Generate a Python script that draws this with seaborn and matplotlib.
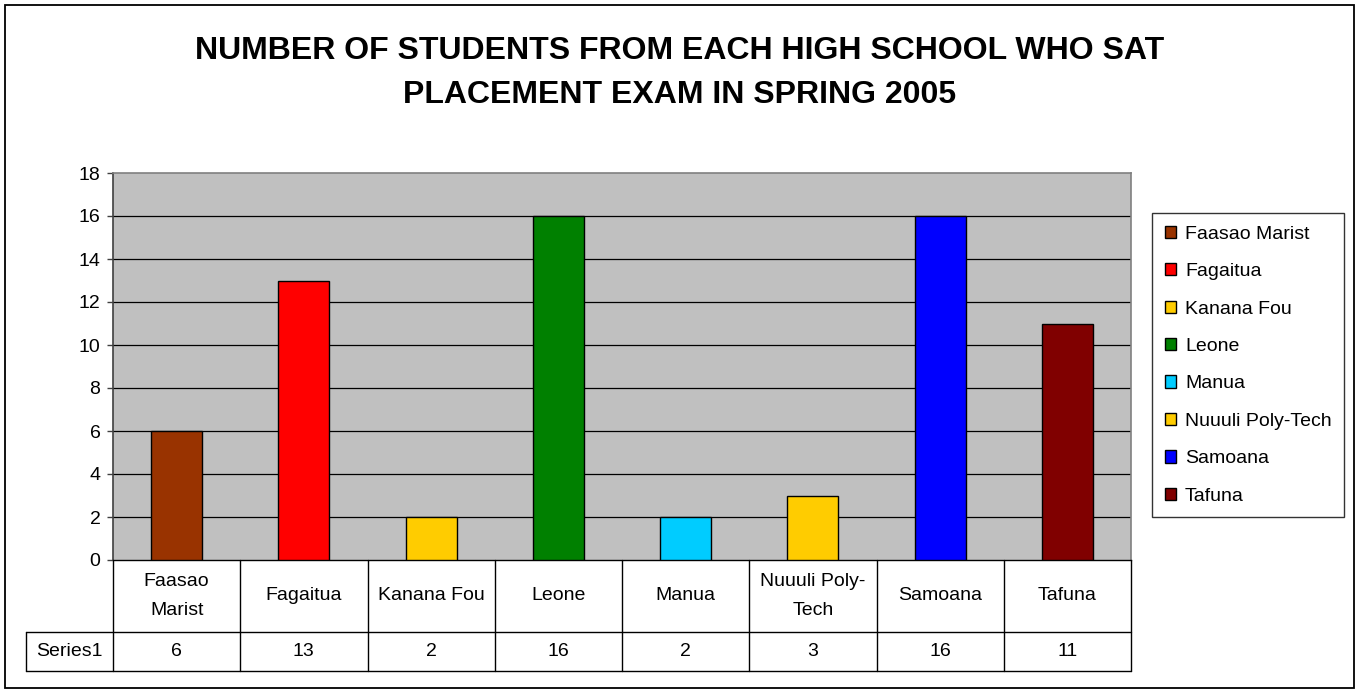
import matplotlib
matplotlib.use("Agg")
import matplotlib.pyplot as plt
import matplotlib.patches as mpatches
import seaborn as sns
import pandas as pd

schools = ["Faasao Marist", "Fagaitua", "Kanana Fou", "Leone", "Manua",
           "Nuuuli Poly-Tech", "Samoana", "Tafuna"]
table_labels = ["Faasao\nMarist", "Fagaitua", "Kanana Fou", "Leone", "Manua",
                "Nuuuli Poly-\nTech", "Samoana", "Tafuna"]
students = [6, 13, 2, 16, 2, 3, 16, 11]
colors = ["#993300", "#FF0000", "#FFCC00", "#008000", "#00CCFF",
          "#FFCC00", "#0000FF", "#800000"]
series_name = "Series1"
title = "NUMBER OF STUDENTS FROM EACH HIGH SCHOOL WHO SAT\nPLACEMENT EXAM IN SPRING 2005"
yticks = [0, 2, 4, 6, 8, 10, 12, 14, 16, 18]

sns.set_style("white")
plt.rcParams["font.family"] = ["Liberation Sans", "DejaVu Sans"]
plt.rcParams["text.color"] = "black"
plt.rcParams["ytick.color"] = "black"
plt.rcParams["ytick.labelcolor"] = "black"

FS = 14

W, H = 1357, 690
fig = plt.figure(figsize=(W / 100, H / 100), dpi=100)
fig.patch.set_facecolor("white")

def fx(x):
    return x / W

def fy(y):
    return 1 - y / H

# outer border
fig.add_artist(mpatches.Rectangle((fx(5), fy(688)), fx(1354) - fx(5), fy(5) - fy(688),
                                  transform=fig.transFigure, fill=False,
                                  edgecolor="black", linewidth=1.3))

ax_l, ax_r, ax_t, ax_b = 113, 1131, 173, 560
ax = fig.add_axes([fx(ax_l), fy(ax_b), fx(ax_r) - fx(ax_l), fy(ax_t) - fy(ax_b)])
ax.set_facecolor("#C0C0C0")

df = pd.DataFrame({"school": schools, "students": students})
sns.barplot(data=df, x="school", y="students", hue="school", palette=colors,
            order=schools, hue_order=schools, dodge=False, width=0.4,
            saturation=1, edgecolor="black", linewidth=1.0, legend=False,
            ax=ax, zorder=3)

ax.set_xlim(-0.5, len(schools) - 0.5)
ax.set_ylim(0, 18)
ax.set_yticks(yticks)
ax.set_yticklabels([str(t) for t in yticks], fontsize=FS)
ax.set_xticks([])
ax.set_xlabel("")
ax.set_ylabel("")
for t in yticks[1:-1]:
    ax.axhline(t, color="black", linewidth=0.9, zorder=1)
ax.tick_params(axis="y", which="both", left=True, direction="out", length=4,
               width=1, color="#404040", pad=5)
for side in ["top", "right"]:
    ax.spines[side].set_color("#808080")
    ax.spines[side].set_linewidth(1.2)
ax.spines["left"].set_color("#404040")
ax.spines["left"].set_linewidth(1.2)
ax.spines["bottom"].set_color("black")
ax.spines["bottom"].set_linewidth(1.0)

# data table beneath the axes
trans = ax.get_xaxis_transform()
ah = ax_b - ax_t
y_row1 = -(632 - ax_b) / ah
y_row2 = -(671 - ax_b) / ah
x_series_left = (26 - ax_l) / ((ax_r - ax_l) / len(schools)) - 0.5
n = len(schools)
lk = dict(color="black", linewidth=1.0, transform=trans, clip_on=False)
for i in range(n + 1):
    ax.plot([i - 0.5, i - 0.5], [0, y_row2], **lk)
ax.plot([x_series_left, x_series_left], [y_row1, y_row2], **lk)
ax.plot([x_series_left, n - 0.5], [y_row1, y_row1], **lk)
ax.plot([x_series_left, n - 0.5], [y_row2, y_row2], **lk)
for i, (lab, v) in enumerate(zip(table_labels, students)):
    ax.text(i, y_row1 / 2, lab, transform=trans, ha="center", va="center",
            fontsize=FS, linespacing=1.9, clip_on=False)
    ax.text(i, (y_row1 + y_row2) / 2, str(v), transform=trans, ha="center",
            va="center", fontsize=FS, clip_on=False)
ax.text((x_series_left - 0.5) / 2, (y_row1 + y_row2) / 2, series_name,
        transform=trans, ha="center", va="center", fontsize=FS, clip_on=False)

# title
fig.text(fx(680), fy(73), title, ha="center", va="center", fontsize=23,
         fontweight="bold", linespacing=1.6)

# legend
handles = [mpatches.Patch(facecolor=c, edgecolor="black", linewidth=1.0, label=s)
           for s, c in zip(schools, colors)]
leg = fig.legend(handles=handles, loc="upper left",
                 bbox_to_anchor=(fx(1152), fy(213)), bbox_transform=fig.transFigure,
                 fontsize=FS, frameon=True, fancybox=False, shadow=False,
                 handlelength=0.6, handleheight=0.6, handletextpad=0.45,
                 labelspacing=1.05, borderpad=0.65, borderaxespad=0)
leg.get_frame().set_edgecolor("black")
leg.get_frame().set_linewidth(1.0)

fig.savefig("out.png", dpi=100)
